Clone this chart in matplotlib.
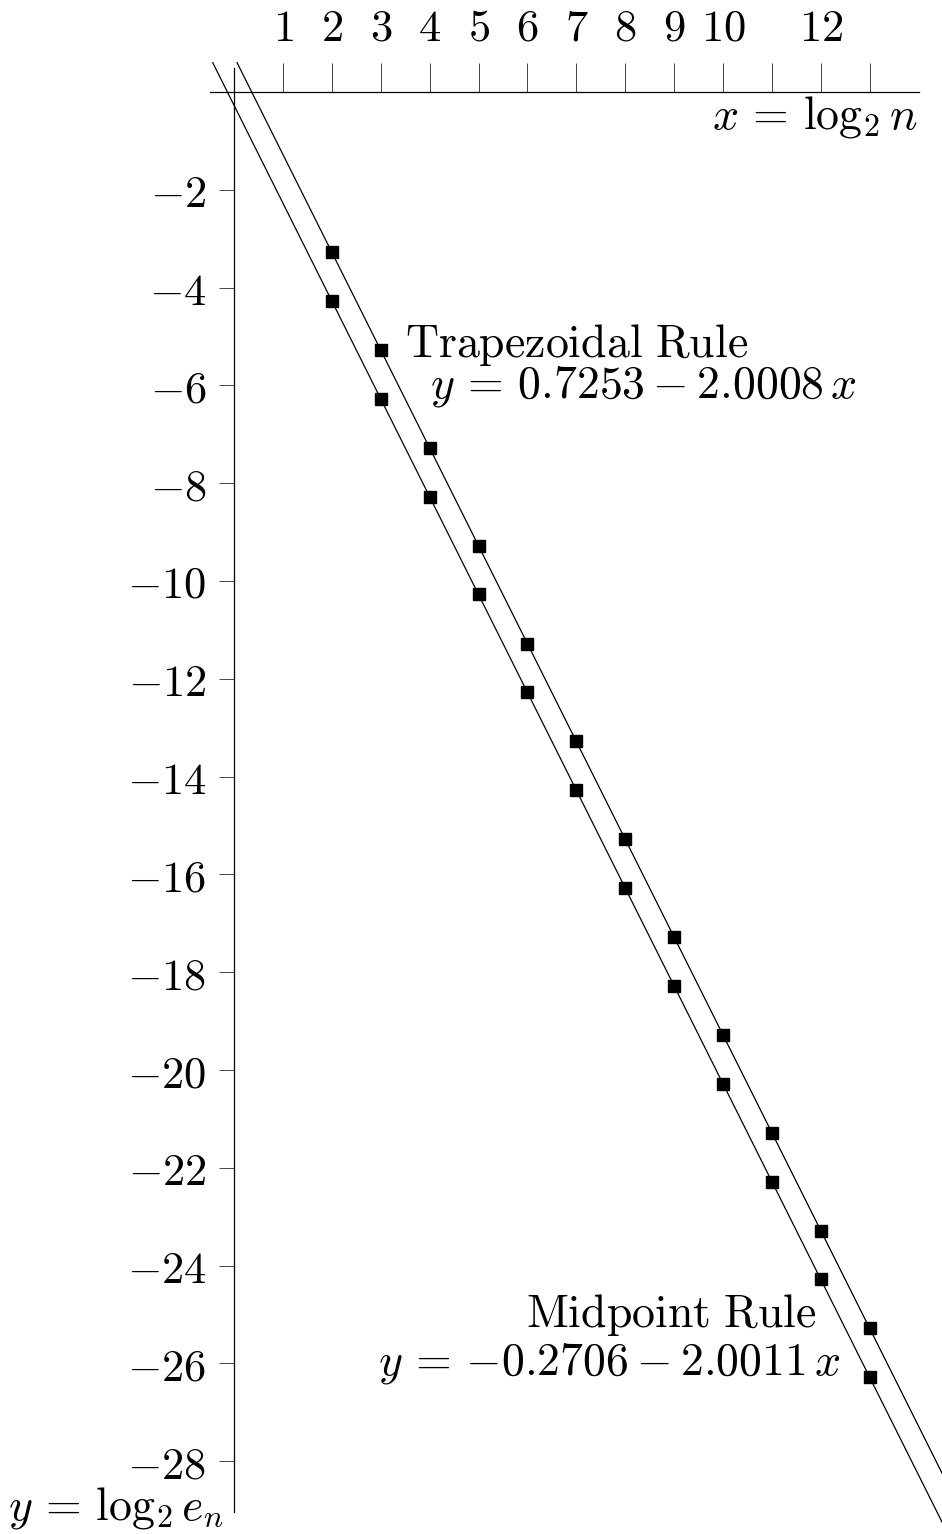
import matplotlib
matplotlib.use('Agg')
import matplotlib.pyplot as plt
import numpy as np

plt.rcParams['mathtext.fontset'] = 'cm'

# x = log2 n
xs = [2, 3, 4, 5, 6, 7, 8, 9, 10, 11, 12, 13]
# y = log2 e_n
trap_y = [-3.276, -5.277, -7.278, -9.279, -11.280, -13.281,
          -15.281, -17.282, -19.283, -21.284, -23.284, -25.285]
mid_y = [-4.273, -6.274, -8.275, -10.276, -12.277, -14.278,
         -16.280, -18.281, -20.282, -22.283, -24.284, -26.285]

# fitted lines y = a + b x
trap_fit = (0.7253, -2.0008)
mid_fit = (-0.2706, -2.0011)

xticks = list(range(1, 14))
xtick_labels = ['1', '2', '3', '4', '5', '6', '7', '8', '9', '10', '', '12', '']
yticks = list(range(-2, -29, -2))

fs = 32     # tick labels
fs_t = 33   # annotations
scale = 48.9  # pixels per unit
W, H = 942, 1534
ox, oy = 234, 92  # pixel position of the origin

fig = plt.figure(figsize=(W / 100, H / 100), dpi=100)
ax = fig.add_axes([0, 0, 1, 1])
ax.set_xlim(-ox / scale, (W - ox) / scale)
ax.set_ylim(-(H - oy) / scale, oy / scale)
ax.patch.set_visible(False)

# fitted lines, from just above the x axis down past the right edge
for a, b in (trap_fit, mid_fit):
    x0 = (0.6 - a) / b
    xl = np.array([x0, 14.6])
    ax.plot(xl, a + b * xl, color='black', lw=0.9)

ax.plot(xs, trap_y, 's', color='black', ms=8.8, ls='none')
ax.plot(xs, mid_y, 's', color='black', ms=8.8, ls='none')

# axes through the origin
for s in ('right', 'bottom'):
    ax.spines[s].set_visible(False)
ax.spines['top'].set_position(('data', 0))
ax.spines['left'].set_position(('data', 0))
ax.spines['top'].set_bounds(-0.5, 14.0)
ax.spines['left'].set_bounds(-29.04, 0.49)
for s in ('top', 'left'):
    ax.spines[s].set_linewidth(0.9)

ax.xaxis.tick_top()
ax.set_xticks(xticks)
ax.set_xticklabels(['$%s$' % t if t else '' for t in xtick_labels])
ax.tick_params(axis='x', direction='out', length=20.9, width=0.7,
               color='#444444', pad=9.5, labelsize=fs)
ax.set_yticks(yticks)
ax.set_yticklabels(['$-%d$' % -t for t in yticks])
ax.tick_params(axis='y', direction='out', length=10.8, width=0.7,
               color='#444444', pad=9, labelsize=fs)

ax.text(13.99, -0.74, r'$x\,=\,\log_2 n$', ha='right', va='baseline', fontsize=fs_t)
ax.text(-0.22, -29.2, r'$y\,=\,\log_2 e_n$', ha='right', va='baseline', fontsize=fs_t)

ax.text(3.50, -5.42, r'$\mathrm{Trapezoidal\ Rule}$', ha='left', va='baseline', fontsize=fs_t)
ax.text(4.01, -6.24, r'$y\,=\,0.7253 - 2.0008\,x$', ha='left', va='baseline', fontsize=fs_t)
ax.text(11.92, -25.26, r'$\mathrm{Midpoint\ Rule}$', ha='right', va='baseline', fontsize=fs_t)
ax.text(12.39, -26.22, r'$y\,=\,{-0.2706} - 2.0011\,x$', ha='right', va='baseline', fontsize=fs_t)

fig.savefig('out.png', dpi=100)
